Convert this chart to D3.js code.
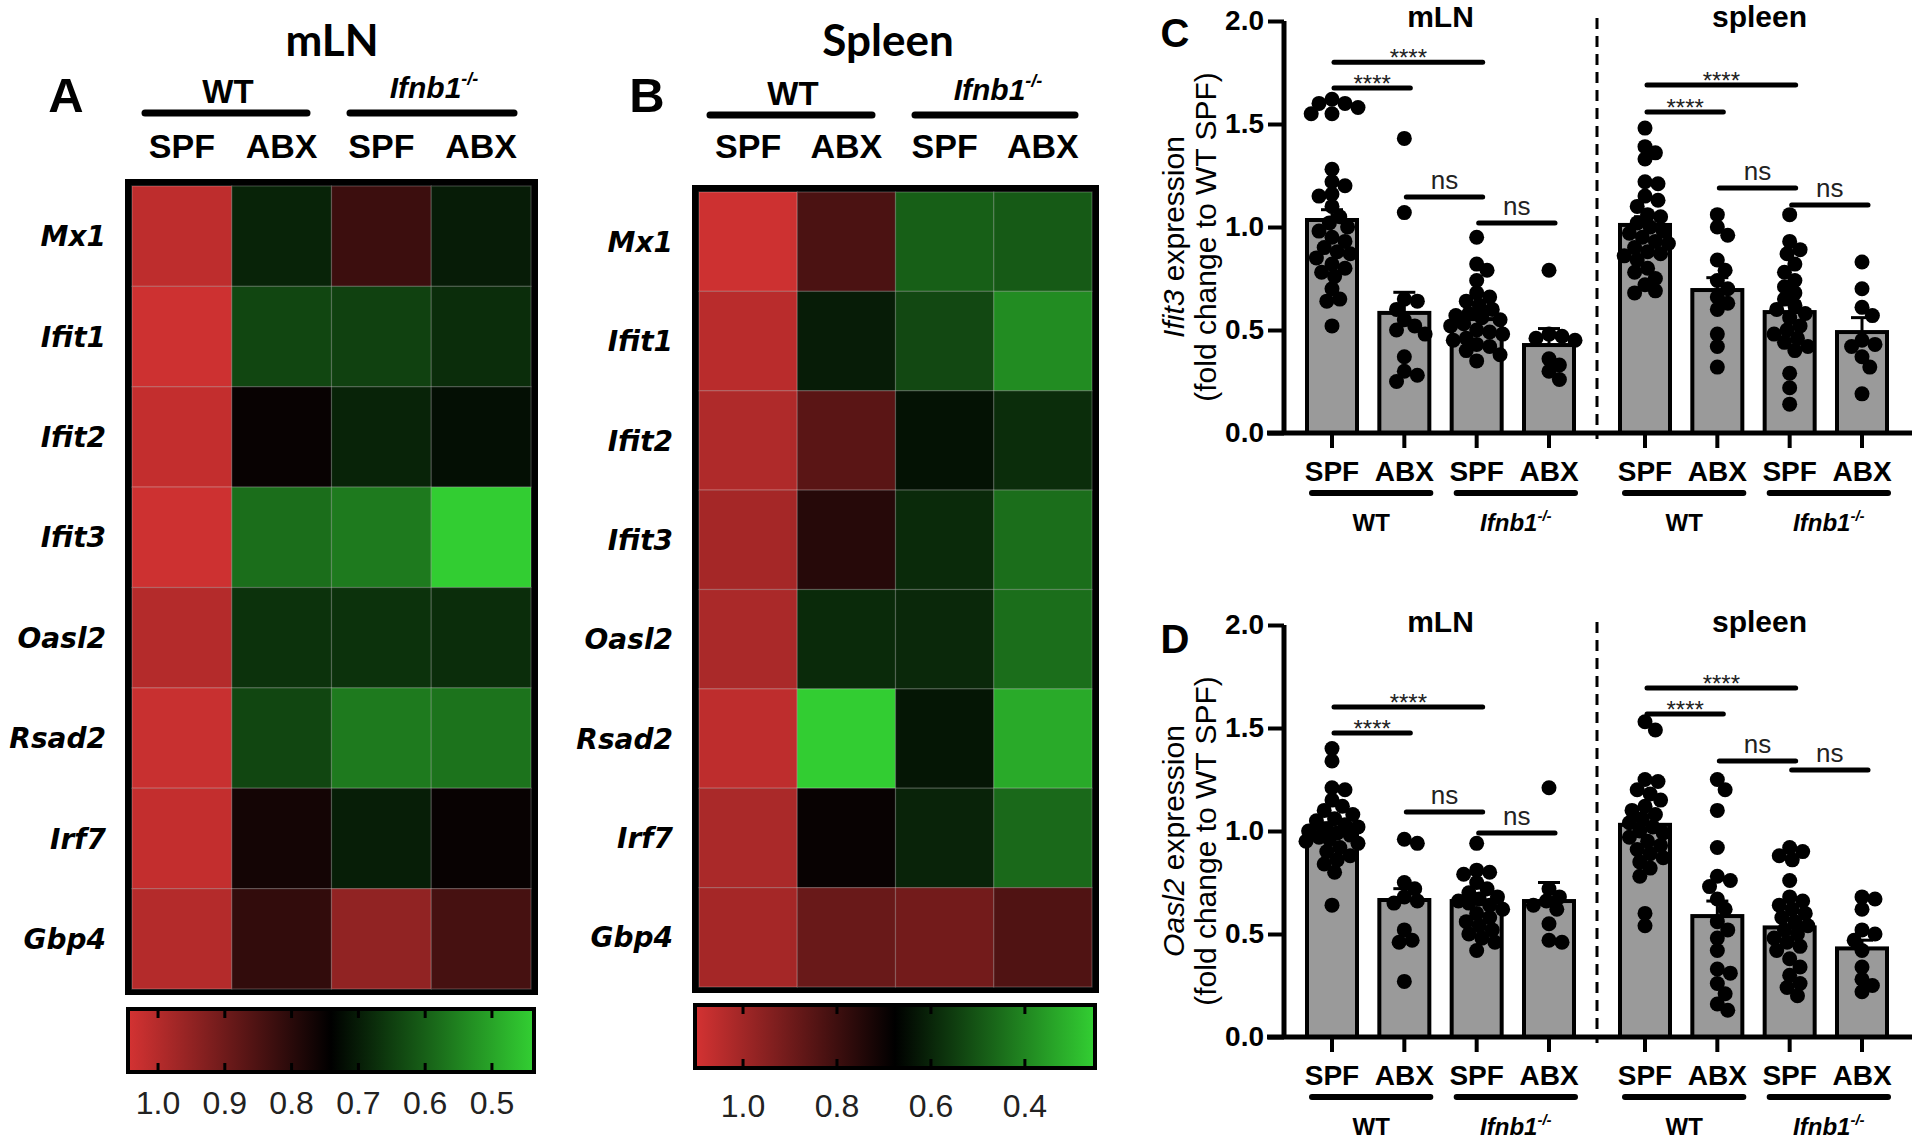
<!DOCTYPE html>
<html><head><meta charset="utf-8">
<script src="https://cdn.jsdelivr.net/npm/d3@7"></script>
<style>
html,body{margin:0;padding:0;background:#fff;}
svg{display:block;}
</style></head><body>
<svg id="fig" width="1920" height="1147"></svg>
<script>
// ---------------- DATA ----------------
const genes = ["Mx1","Ifit1","Ifit2","Ifit3","Oasl2","Rsad2","Irf7","Gbp4"];
const conditions = ["WT SPF","WT ABX","KO SPF","KO ABX"];
const conditionLabels = ["SPF","ABX","SPF","ABX"];
const genotypeLabels = ["WT","Ifnb1"];
// heatmap fold-change values: rows = genes, columns = conditions
const mlnHeat = [
  [1.013,0.690,0.827,0.700],
  [1.035,0.638,0.646,0.675],
  [1.020,0.752,0.690,0.719],
  [1.035,0.579,0.562,0.440],
  [0.999,0.668,0.668,0.675],
  [1.028,0.638,0.562,0.572],
  [1.020,0.770,0.697,0.752],
  [0.999,0.813,0.949,0.841]
];
const spleenHeat = [
  [1.088,0.827,0.481,0.491],
  [1.048,0.618,0.528,0.388],
  [1.028,0.857,0.639,0.583],
  [1.008,0.752,0.590,0.450],
  [1.018,0.590,0.594,0.450],
  [1.058,0.255,0.631,0.327],
  [1.018,0.692,0.604,0.460],
  [1.008,0.887,0.907,0.837]
];
const mlnColorStops = [1.042,0.741,0.44];
const spleenColorStops = [1.098,0.676,0.255];
const mlnLegendTicks = [1.0,0.9,0.8,0.7,0.6,0.5];
const spleenLegendTicks = [1.0,0.8,0.6,0.4];
const heatColors = ["#d23232","#000000","#32cd32"];

const tissues = ["mLN","spleen"];
const barYTicks = [0,0.5,1.0,1.5,2.0];
// order: mLN WT SPF, WT ABX, KO SPF, KO ABX, spleen WT SPF, WT ABX, KO SPF, KO ABX
const ifit3Mean = [1.034,0.583,0.553,0.427,1.010,0.694,0.587,0.490];
const ifit3Sem  = [0.05,0.10,0.04,0.08,0.04,0.06,0.05,0.07];
const ifit3Points = [
  [1.62,1.60,1.58,1.60,1.55,1.55,1.28,1.22,1.20,1.16,1.15,1.10,1.05,1.02,1.00,0.98,0.95,0.93,0.90,0.88,0.87,0.85,0.82,0.80,0.78,0.76,0.70,0.65,0.64,0.52],
  [1.43,1.07,0.65,0.64,0.60,0.55,0.52,0.50,0.48,0.37,0.30,0.28,0.25],
  [0.95,0.82,0.79,0.74,0.68,0.66,0.64,0.62,0.60,0.58,0.57,0.56,0.55,0.53,0.52,0.50,0.49,0.48,0.46,0.45,0.43,0.42,0.40,0.38,0.35],
  [0.79,0.48,0.47,0.46,0.45,0.36,0.33,0.30,0.26],
  [1.48,1.39,1.36,1.33,1.22,1.21,1.15,1.13,1.10,1.06,1.05,1.02,1.00,0.98,0.97,0.95,0.93,0.92,0.90,0.88,0.87,0.86,0.84,0.80,0.78,0.75,0.72,0.69,0.68],
  [1.06,1.00,0.96,0.84,0.79,0.74,0.70,0.66,0.63,0.60,0.48,0.42,0.32],
  [1.06,0.93,0.89,0.87,0.82,0.78,0.74,0.71,0.68,0.65,0.62,0.60,0.58,0.56,0.52,0.50,0.48,0.46,0.44,0.42,0.40,0.29,0.22,0.14],
  [0.83,0.70,0.61,0.57,0.45,0.43,0.42,0.37,0.32,0.19]
];
const ifit3Sig = [
  [0,2,1.800,"****"],[0,1,1.675,"****"],[1,2,1.146,"ns"],[2,3,1.019,"ns"],
  [4,6,1.689,"****"],[4,5,1.558,"****"],[5,6,1.189,"ns"],[6,7,1.107,"ns"]
];
const oasl2Mean = [1.010,0.665,0.660,0.660,1.030,0.587,0.532,0.430];
const oasl2Sem  = [0.03,0.055,0.03,0.09,0.04,0.073,0.04,0.04];
const oasl2Points = [
  [1.40,1.34,1.21,1.20,1.15,1.12,1.10,1.08,1.06,1.05,1.03,1.02,1.01,1.00,0.99,0.98,0.97,0.96,0.95,0.94,0.92,0.90,0.88,0.86,0.84,0.80,0.64],
  [0.96,0.94,0.75,0.72,0.68,0.66,0.65,0.52,0.47,0.46,0.27],
  [0.94,0.81,0.80,0.79,0.75,0.72,0.70,0.68,0.67,0.66,0.65,0.64,0.62,0.60,0.58,0.56,0.54,0.52,0.50,0.48,0.46,0.42],
  [1.21,0.72,0.68,0.66,0.64,0.62,0.55,0.47,0.46],
  [1.53,1.49,1.25,1.24,1.20,1.18,1.15,1.12,1.10,1.08,1.06,1.04,1.02,1.00,0.99,0.97,0.95,0.93,0.91,0.89,0.87,0.85,0.82,0.78,0.60,0.54],
  [1.25,1.20,1.10,0.92,0.78,0.76,0.73,0.67,0.62,0.56,0.52,0.48,0.42,0.33,0.31,0.26,0.21,0.16,0.13],
  [0.92,0.90,0.88,0.86,0.76,0.68,0.66,0.64,0.62,0.60,0.58,0.56,0.54,0.52,0.50,0.48,0.46,0.44,0.42,0.38,0.34,0.30,0.26,0.24,0.20],
  [0.68,0.67,0.62,0.52,0.50,0.47,0.42,0.34,0.28,0.25,0.22]
];
const oasl2Sig = [
  [0,2,1.602,"****"],[0,1,1.476,"****"],[1,2,1.092,"ns"],[2,3,0.990,"ns"],
  [4,6,1.694,"****"],[4,5,1.568,"****"],[5,6,1.340,"ns"],[6,7,1.296,"ns"]
];

// ---------------- DRAWING ----------------
const svg = d3.select("#fig");
const FONT = "'Liberation Sans', Arial, Helvetica, sans-serif";
const GENEFONT = "'DejaVu Sans', Verdana, sans-serif";
const TITLEFONT = "Lato, 'Open Sans', sans-serif";
const defs = svg.append("defs");

function genotypeText(g, label, x, y, size, supSize){
  const t = g.append("text").attr("x", x).attr("y", y).attr("text-anchor", "middle")
    .style("font-family", FONT).style("font-weight","bold").style("font-size", size+"px").attr("fill","#000");
  if(label === "WT"){ t.text("WT"); }
  else {
    t.append("tspan").text("Ifnb1").style("font-style","italic");
    t.append("tspan").text("-/-").attr("dy", -size*0.42).style("font-size", supSize+"px").style("font-style","italic");
  }
  return t;
}

function heatPanel(cfg){
  const g = svg.append("g");
  const x = d3.scaleBand().domain(conditions).range(cfg.cellX);
  const y = d3.scaleBand().domain(genes).range(cfg.cellY);
  const color = d3.scaleLinear().domain(cfg.stops).range(heatColors).clamp(true);

  g.append("rect").attr("x", cfg.cellX[0]-7).attr("y", cfg.cellY[0]-7)
    .attr("width", cfg.cellX[1]-cfg.cellX[0]+14).attr("height", cfg.cellY[1]-cfg.cellY[0]+13)
    .attr("fill","#000");
  genes.forEach((gene, r) => {
    conditions.forEach((c, k) => {
      g.append("rect").attr("x", x(c)).attr("y", y(gene))
        .attr("width", x.bandwidth()).attr("height", y.bandwidth())
        .attr("fill", color(cfg.data[r][k]))
        .attr("stroke","rgba(255,255,255,0.22)").attr("stroke-width",1.2);
    });
    g.append("text").attr("x", cfg.labelX).attr("y", y(gene)+y.bandwidth()/2).attr("dy","0.36em")
      .attr("text-anchor","end").style("font-family",GENEFONT).style("font-weight","bold")
      .style("font-style","italic").style("font-size","28px").text(gene);
  });
  g.append("text").attr("x", cfg.title[1]).attr("y", cfg.title[2]).attr("text-anchor","middle")
    .style("font-family",TITLEFONT).style("font-weight","bold").style("font-size","44px").text(cfg.title[0]);
  g.append("text").attr("x", cfg.letter[1]).attr("y", cfg.letter[2]).attr("text-anchor","middle")
    .style("font-family",FONT).style("font-weight","bold").style("font-size","49px").text(cfg.letter[0]);
  conditions.forEach((c,k) => {
    g.append("text").attr("x", x(c)+x.bandwidth()/2).attr("y", 158).attr("text-anchor","middle")
      .style("font-family",FONT).style("font-weight","bold").style("font-size","34px").text(conditionLabels[k]);
  });
  genotypeLabels.forEach((lab,k) => {
    const L = cfg.genoLines[k];
    g.append("line").attr("x1",L[0]).attr("x2",L[1]).attr("y1",L[2]).attr("y2",L[2])
      .attr("stroke","#000").attr("stroke-width",7).attr("stroke-linecap","round");
    genotypeText(g, lab, cfg.genoText[k][0], cfg.genoText[k][1], k===0?33:30, 18);
  });
  const lx = d3.scaleLinear().domain([cfg.stops[0], cfg.stops[2]]).range(cfg.legX);
  const gid = "grad"+cfg.letter[0];
  const grad = defs.append("linearGradient").attr("id",gid).attr("x1","0%").attr("x2","100%");
  d3.range(0,1.0001,0.05).forEach(t => {
    grad.append("stop").attr("offset",(t*100)+"%").attr("stop-color", color(cfg.stops[0]+(cfg.stops[2]-cfg.stops[0])*t));
  });
  g.append("rect").attr("x",cfg.legX[0]-4).attr("y",cfg.legY[0]-4)
    .attr("width",cfg.legX[1]-cfg.legX[0]+8).attr("height",cfg.legY[1]-cfg.legY[0]+8).attr("fill","#000");
  g.append("rect").attr("x",cfg.legX[0]).attr("y",cfg.legY[0])
    .attr("width",cfg.legX[1]-cfg.legX[0]).attr("height",cfg.legY[1]-cfg.legY[0]).attr("fill",`url(#${gid})`);
  cfg.ticks.forEach(v => {
    const px = lx(v);
    g.append("line").attr("x1",px).attr("x2",px).attr("y1",cfg.legY[0]).attr("y2",cfg.legY[0]+7).attr("stroke","#000").attr("stroke-width",3);
    g.append("line").attr("x1",px).attr("x2",px).attr("y1",cfg.legY[1]-7).attr("y2",cfg.legY[1]).attr("stroke","#000").attr("stroke-width",3);
    g.append("text").attr("x",px).attr("y",cfg.legLabelY).attr("text-anchor","middle")
      .style("font-family",FONT).style("font-size","32px").attr("fill","#222").text(v.toFixed(1));
  });
}

heatPanel({data: mlnHeat, stops: mlnColorStops, ticks: mlnLegendTicks,
  cellX:[132,531], cellY:[186,989], labelX:106,
  title:["mLN",332,56], letter:["A",66,112],
  genoLines:[[145,307,113],[350,514,113]], genoText:[[228,103],[434,98]],
  legX:[130,532], legY:[1011,1070], legLabelY:1114});
heatPanel({data: spleenHeat, stops: spleenColorStops, ticks: spleenLegendTicks,
  cellX:[699,1092], cellY:[192,987], labelX:673,
  title:["Spleen",888,56], letter:["B",647,112],
  genoLines:[[710,872,115],[915,1075,115]], genoText:[[793,105],[998,100]],
  legX:[697,1093], legY:[1007,1066], legLabelY:1117});

// ---------- bar panels ----------
const xMln = d3.scalePoint().domain(conditions).range([1332,1549]);
const xSpl = d3.scalePoint().domain(conditions).range([1645,1862]);
const barX = i => i < 4 ? xMln(conditions[i]) : xSpl(conditions[i-4]);

function swarm(vals, y, r){
  const placed = [];
  const sorted = vals.slice().sort((a,b)=>b-a);
  sorted.forEach(v => {
    const py = y(v);
    let best = 0, bestScore = -Infinity;
    for(let k=0;k<=10;k++){
      const offs = k===0 ? [0] : [k*2.6, -k*2.6];
      for(const o of offs){
        let md = Infinity;
        placed.forEach(q => { md = Math.min(md, Math.hypot(q.dx-o, q.py-py)); });
        if(md >= 2*r*0.78){ best = o; bestScore = Infinity; break; }
        if(md > bestScore){ bestScore = md; best = o; }
      }
      if(bestScore === Infinity) break;
    }
    placed.push({v, dx:best, py});
  });
  return placed;
}

function barPanel(cfg){
  const g = svg.append("g");
  const y = d3.scaleLinear().domain([0,2]).range(cfg.yRange);
  const y0 = y(0);
  g.append("line").attr("x1",1597).attr("x2",1597).attr("y1",y(2)-3).attr("y2",y0+6)
    .attr("stroke","#000").attr("stroke-width",3).attr("stroke-dasharray","11,7");
  cfg.mean.forEach((m,i) => {
    const cx = barX(i);
    g.append("rect").attr("x",cx-25).attr("y",y(m)).attr("width",50).attr("height",y0-y(m))
      .attr("fill","#9a9a9a").attr("stroke","#000").attr("stroke-width",4);
  });
  cfg.points.forEach((pts,i) => {
    const cx = barX(i);
    swarm(pts, y, 7.5).forEach(p => {
      g.append("circle").attr("cx",cx+p.dx).attr("cy",p.py).attr("r",7.5).attr("fill","#000");
    });
  });
  cfg.mean.forEach((m,i) => {
    const cx = barX(i), top = y(m+cfg.sem[i]);
    g.append("line").attr("x1",cx).attr("x2",cx).attr("y1",y(m)).attr("y2",top).attr("stroke","#000").attr("stroke-width",3);
    g.append("line").attr("x1",cx-11).attr("x2",cx+11).attr("y1",top).attr("y2",top).attr("stroke","#000").attr("stroke-width",3);
  });
  const yAxis = d3.axisLeft(y).tickValues(barYTicks).tickFormat(d3.format(".1f")).tickSize(16).tickPadding(4);
  const ya = g.append("g").attr("transform","translate(1284,0)").call(yAxis);
  ya.select(".domain").attr("stroke-width",5).attr("d",`M0,${y(2)}V${y0}`);
  ya.selectAll(".tick line").attr("stroke-width",4);
  ya.selectAll(".tick text").style("font-family",FONT).style("font-weight","bold").style("font-size","28px").attr("fill","#000");
  g.append("line").attr("x1",1267).attr("x2",1912).attr("y1",y0).attr("y2",y0).attr("stroke","#000").attr("stroke-width",5);
  cfg.mean.forEach((m,i) => {
    const cx = barX(i);
    g.append("line").attr("x1",cx).attr("x2",cx).attr("y1",y0).attr("y2",y0+15).attr("stroke","#000").attr("stroke-width",4);
    g.append("text").attr("x",cx).attr("y",y0+48).attr("text-anchor","middle")
      .style("font-family",FONT).style("font-weight","bold").style("font-size","28px").text(conditionLabels[i%4]);
  });
  [0,2,4,6].forEach((i,k) => {
    const a = barX(i), b = barX(i+1);
    g.append("line").attr("x1",a-20).attr("x2",b+26).attr("y1",y0+60).attr("y2",y0+60)
      .attr("stroke","#000").attr("stroke-width",6).attr("stroke-linecap","round");
    genotypeText(g, genotypeLabels[k%2], (a+b)/2+3, y0+98, 24, 15);
  });
  tissues.forEach((t,k) => {
    const cx = k===0 ? (barX(0)+barX(3))/2 : (barX(4)+barX(7))/2 + 6;
    g.append("text").attr("x",cx).attr("y",cfg.titleY).attr("text-anchor","middle")
      .style("font-family",FONT).style("font-weight","bold").style("font-size","30px").text(t);
  });
  g.append("text").attr("x",1175).attr("y",cfg.letterY).attr("text-anchor","middle")
    .style("font-family",FONT).style("font-weight","bold").style("font-size","40px").text(cfg.letter);
  const yc = (y(0)+y(2))/2 + 10;
  const t1 = g.append("text").attr("transform",`translate(1184,${yc}) rotate(-90)`).attr("text-anchor","middle")
    .style("font-family",FONT).style("font-size","30px");
  t1.append("tspan").text(cfg.gene).style("font-style","italic");
  t1.append("tspan").text(" expression");
  g.append("text").attr("transform",`translate(1216,${yc}) rotate(-90)`).attr("text-anchor","middle")
    .style("font-family",FONT).style("font-size","30px").text("(fold change to WT SPF)");
  cfg.sig.forEach(s => {
    const a = barX(s[0])+2, b = barX(s[1])+6, yy = y(s[2]);
    g.append("line").attr("x1",a).attr("x2",b).attr("y1",yy).attr("y2",yy)
      .attr("stroke","#000").attr("stroke-width",5).attr("stroke-linecap","round");
    g.append("text").attr("x",(a+b)/2).attr("y", s[3]==="ns" ? yy-8 : yy+4).attr("text-anchor","middle")
      .style("font-family",FONT).style("font-size", s[3]==="ns" ? "26px" : "24px").attr("fill","#222").text(s[3]);
  });
}

barPanel({mean: ifit3Mean, sem: ifit3Sem, points: ifit3Points, sig: ifit3Sig,
  yRange:[433,21], titleY:27, letter:"C", letterY:47, gene:"Ifit3"});
barPanel({mean: oasl2Mean, sem: oasl2Sem, points: oasl2Points, sig: oasl2Sig,
  yRange:[1037,625], titleY:632, letter:"D", letterY:653, gene:"Oasl2"});
</script>
</body></html>
